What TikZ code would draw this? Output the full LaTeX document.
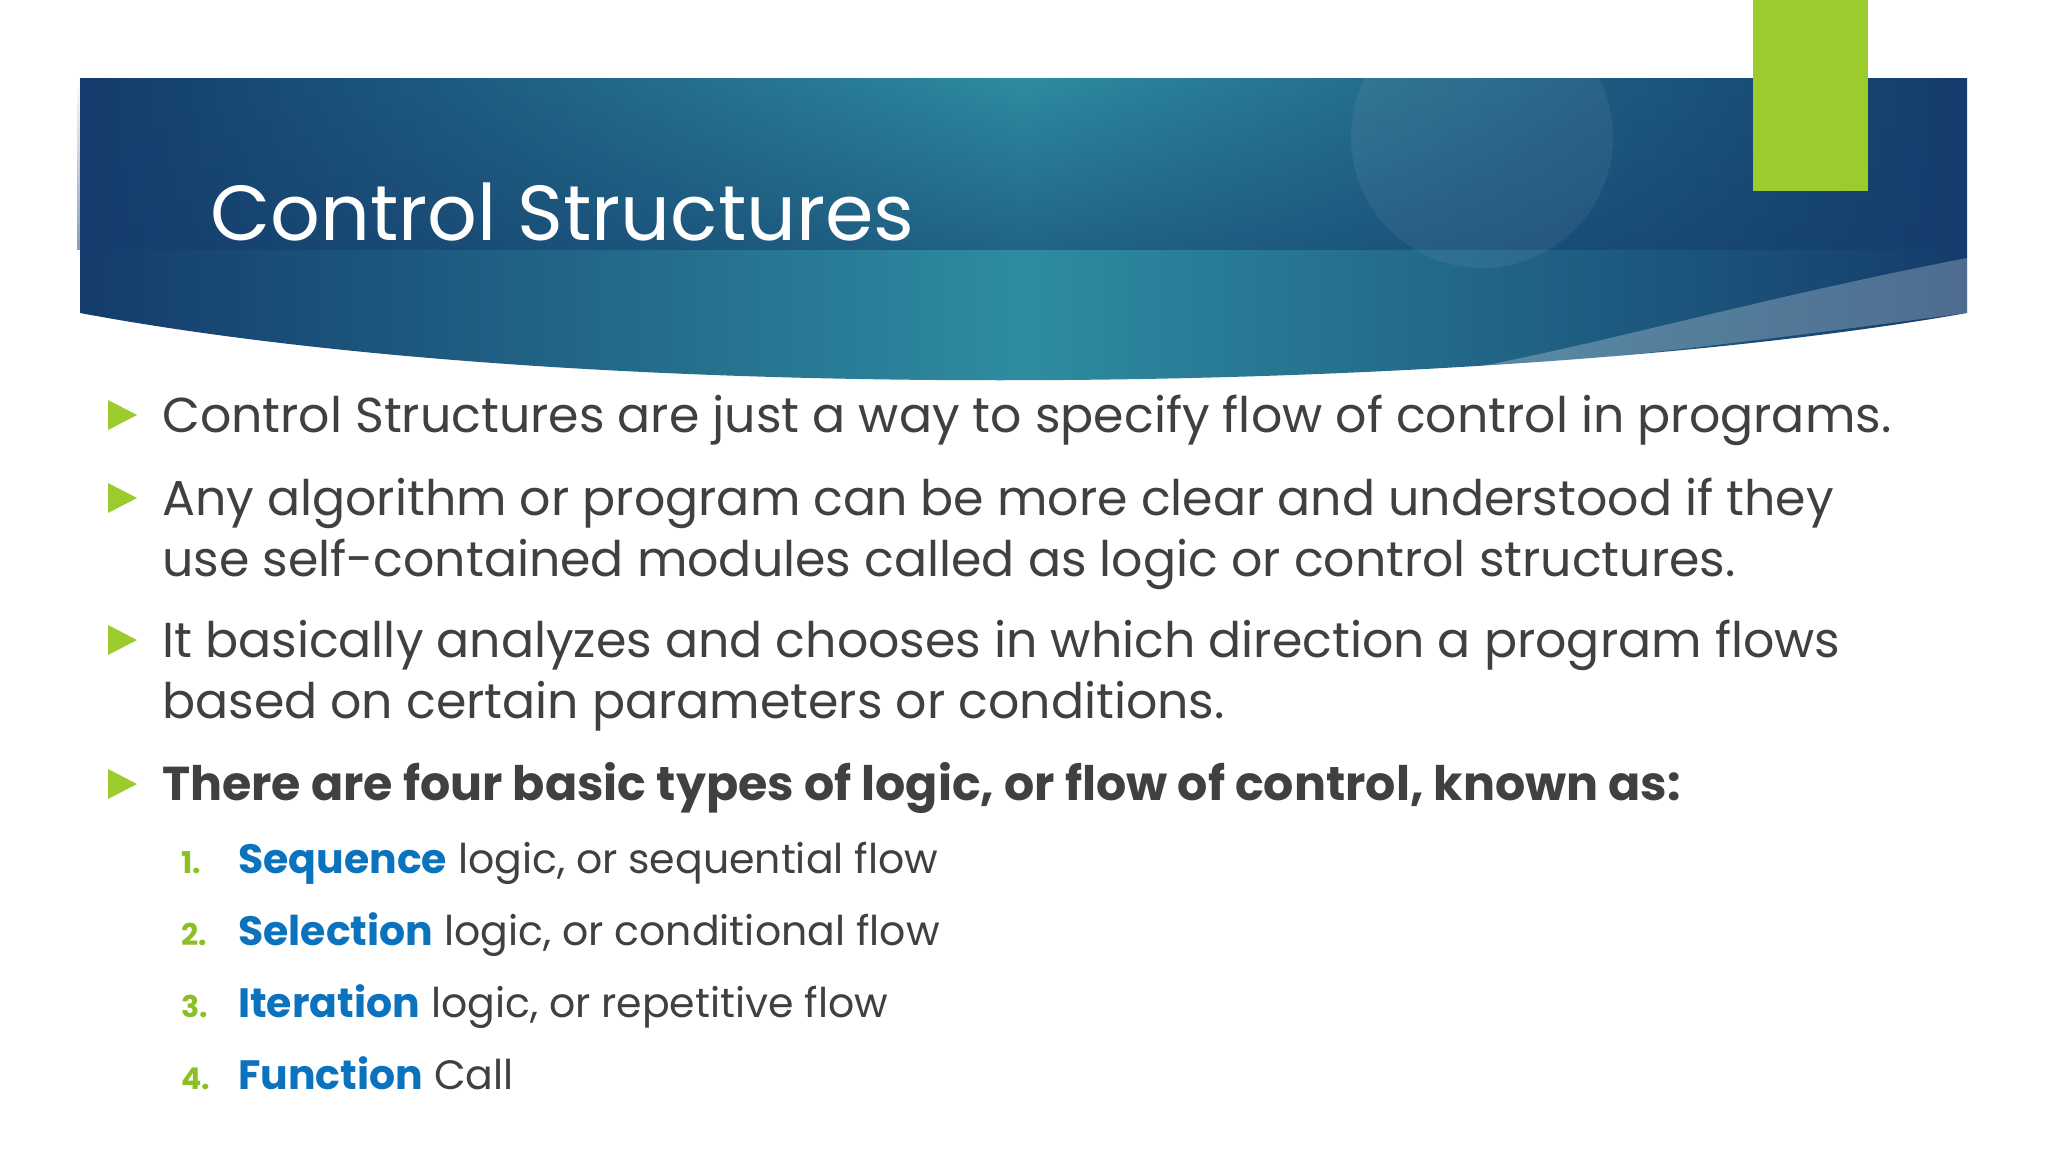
\documentclass[tikz,border=0pt]{standalone}
\usepackage{fontspec}
\setmainfont{Poppins}
\usetikzlibrary{fadings}
\definecolor{bdark}{HTML}{143C6C}
\definecolor{bteal}{HTML}{2E8CA0}
\definecolor{txt}{HTML}{404040}
\definecolor{kw}{HTML}{0B72BE}
\definecolor{grn}{HTML}{9BCB2C}
\definecolor{num}{HTML}{8CBF26}
\tikzset{
 body/.style={anchor=base west,inner sep=0,text=txt,font=\fontsize{49}{60}\selectfont},
 sub/.style={anchor=base west,inner sep=0,text=txt,font=\fontsize{41}{50}\selectfont},
 numb/.style={anchor=base west,inner sep=0,text=num,font=\fontsize{30}{30}\selectfont\bfseries},
 tri/.style={fill=grn}
}
\newcommand{\kwd}[1]{\textcolor{kw}{\bfseries #1}}
\begin{document}
\begin{tikzpicture}[x=1pt,y=-1pt]
\useasboundingbox (0,0) rectangle (2048,1152);
\fill[white] (0,0) rectangle (2048,1152);
\path[left color=bdark,right color=bdark,middle color=bteal]
 (80,78) -- (1967,78) -- (1967,313) .. controls (1500,395) and (600,410) .. (80,313) -- cycle;
\fill[bdark,path fading=north,opacity=0.5] (80,78) rectangle (1967,250);
\fill[white,opacity=0.06] (1482,137) circle (131);
\fill[white,opacity=0.25] (1967,258) .. controls (1750,300) and (1600,345) .. (1450,372) .. controls (1650,355) and (1800,335) .. (1967,313) -- cycle;
\fill[grn] (1753,0) rectangle (1868,191);
\node[anchor=base west,inner sep=0,text=white,font=\fontsize{78}{90}\selectfont] (title) at (210,240) {Control Structures};
\foreach \y in {415,498,640,784} {\fill[tri] (108,\y-15) -- (137,\y) -- (108,\y+15) -- cycle;}
\node[body] (l1) at (162,432) {Control Structures are just a way to specify flow of control in programs.};
\node[body] (l2) at (162,515) {Any algorithm or program can be more clear and understood if they};
\node[body] (l3) at (162,576) {use self-contained modules called as logic or control structures.};
\node[body] (l4) at (162,657) {It basically analyzes and chooses in which direction a program flows};
\node[body] (l5) at (162,718) {based on certain parameters or conditions.};
\node[body,font=\fontsize{47.5}{60}\selectfont\bfseries] (l6) at (162,800) {There are four basic types of logic, or flow of control, known as:};
\foreach \n/\y/\t in {1/873/{\kwd{Sequence} logic, or sequential flow},2/945/{\kwd{Selection} logic, or conditional flow},3/1017/{\kwd{Iteration} logic, or repetitive flow},4/1089/{\kwd{Function} Call}} {
 \node[numb] (n\n) at (181,\y) {\n.};
 \node[sub] (s\n) at (238,\y) {\t};
}
\end{tikzpicture}
\end{document}
